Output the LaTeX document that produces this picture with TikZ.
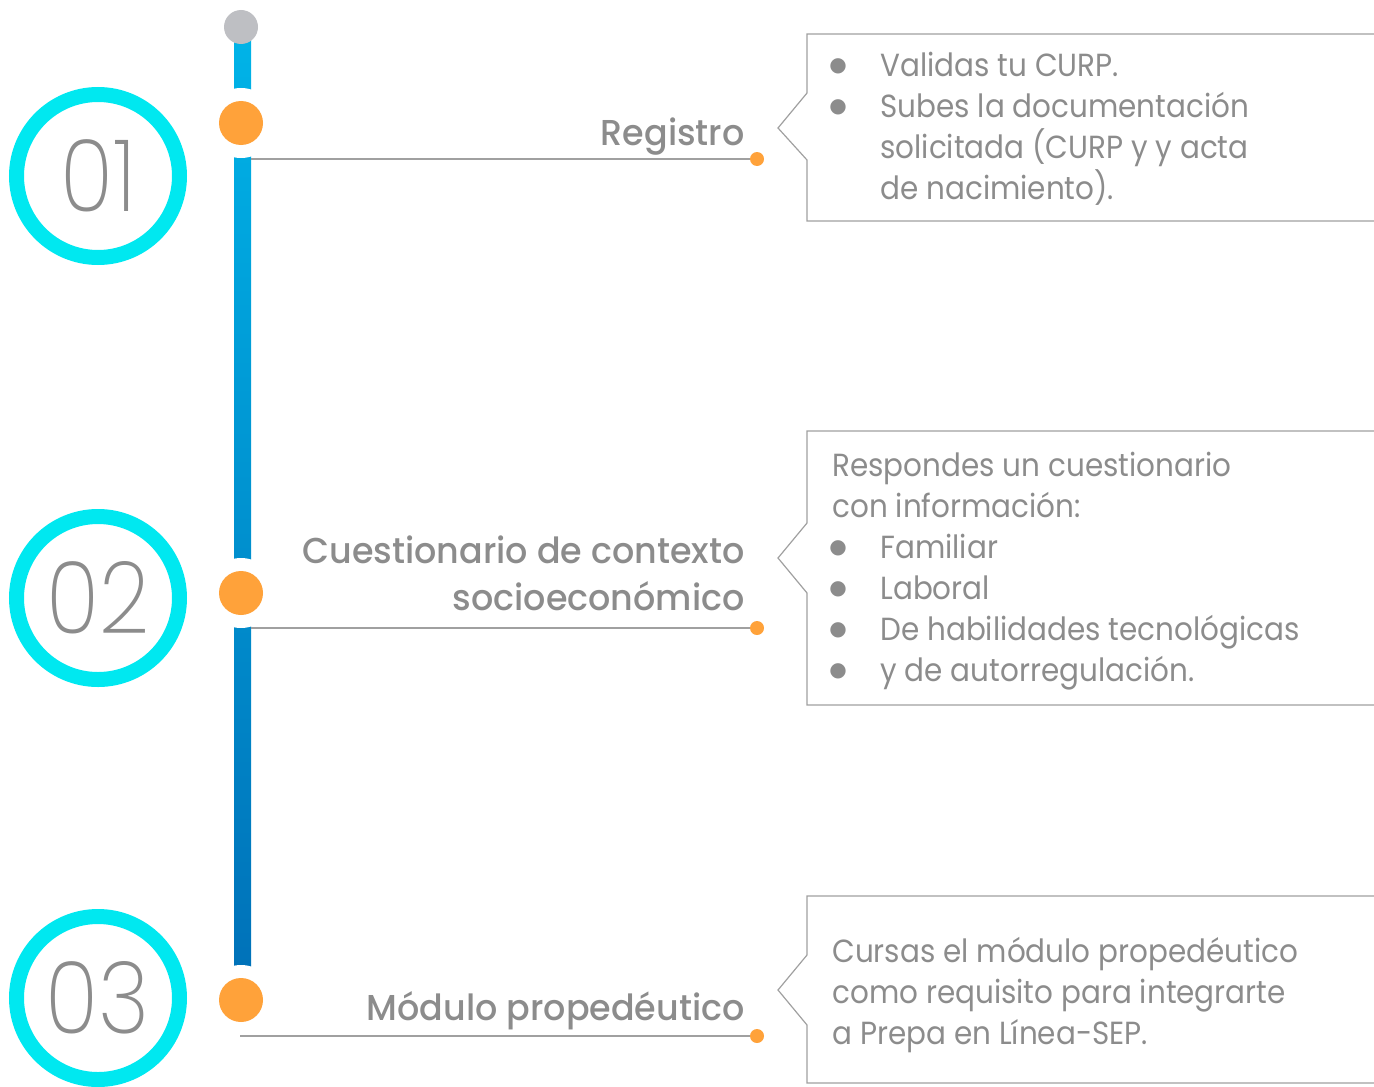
\documentclass[tikz,border=0pt]{standalone}
\usepackage{fontspec}
\setmainfont{Poppins}[FakeStretch=0.92]
\newfontfamily\titlefont{Poppins Medium}[FakeStretch=0.97]
\newfontfamily\numfont{Poppins ExtraLight}
\newfontfamily\symfont{DejaVu Sans}
\usetikzlibrary{positioning}

\definecolor{txtgray}{HTML}{8C8C8C}
\definecolor{linegray}{HTML}{A0A0A0}
\definecolor{dotorange}{HTML}{FFA23A}
\definecolor{topgray}{HTML}{BEBFC3}
\definecolor{ringcyan}{HTML}{00E8F0}
\definecolor{bartop}{HTML}{00B4E8}
\definecolor{barbot}{HTML}{0072B9}

\tikzset{
  ring/.style={draw=ringcyan, line width=7.5pt},
  numtxt/.style={font=\numfont\fontsize{50}{50}\selectfont, text=txtgray, xscale=.88},
  stepdot/.style={circle, fill=dotorange, minimum size=22pt, inner sep=0pt},
  topdot/.style={circle, fill=topgray, minimum size=17pt, inner sep=0pt},
  enddot/.style={circle, fill=dotorange, minimum size=7pt, inner sep=0pt},
  leader/.style={draw=linegray, line width=.6pt},
  callout/.style={draw=linegray, line width=.6pt},
  steptitle/.style={font=\titlefont\fontsize{18}{23.5}\selectfont, text=txtgray, align=right, inner sep=0pt},
  bodytxt/.style={font=\fontsize{16}{20.5}\selectfont, text=txtgray, align=left, inner sep=0pt},
}
\newcommand{\itm}{\makebox[24pt][l]{\hspace{-1.5pt}\raisebox{2.4pt}{\symfont\fontsize{10}{10}\selectfont ●}}}

\begin{document}
\begin{tikzpicture}[x=0.5pt,y=-0.5pt]
\useasboundingbox (0,0) rectangle (1374,1086);
% timeline bar
\shade[top color=bartop, bottom color=barbot] (234,27) rectangle (251,968);
\foreach \name/\y in {a/123,b/593,c/1000}{
  \fill[white] (241,\y) circle[radius=35];
  \node[stepdot] (dot\name) at (241,\y) {};
}
\node[topdot] (top) at (241,27) {};

% numbered rings
\foreach \name/\y/\num in {a/176/01,b/598/02,c/998/03}{
  \draw[ring] (98,\y) circle[radius=81.5];
  \node[numtxt] (num\name) at (98,\y) {\num};
}

% leaders
\coordinate (sa) at (251,159);
\coordinate (sb) at (251,628);
\coordinate (sc) at (240,1036);
\node[enddot] (enda) at (757,159) {};
\node[enddot] (endb) at (757,628) {};
\node[enddot] (endc) at (757,1036) {};
\draw[leader] (sa) -- (enda);
\draw[leader] (sb) -- (endb);
\draw[leader] (sc) -- (endc);

% titles
\node[steptitle, anchor=base east] (ta) at (745,145) {Registro};
\node[steptitle, anchor=north east] (tb) at (745,535) {Cuestionario de contexto\\socioeconómico};
\node[steptitle, anchor=base east] (tc) at (745,1020) {Módulo propedéutico};

% callout boxes
\draw[callout] (1374,34) -- (807,34) -- (807,93) -- (778,128) -- (807,160) -- (807,221) -- (1374,221);
\draw[callout] (1374,431) -- (807,431) -- (807,523) -- (778,558) -- (807,593) -- (807,705) -- (1374,705);
\draw[callout] (1374,896) -- (807,896) -- (807,955) -- (778,990) -- (807,1025) -- (807,1083) -- (1374,1083);

\node[bodytxt, anchor=north west] (ba) at (832,52) {\itm Validas tu CURP.\\
\itm Subes la documentación\\
\hspace{24pt}solicitada (CURP y y acta\\
\hspace{24pt}de nacimiento).};
\node[bodytxt, anchor=north west] (bb) at (832,452) {Respondes un cuestionario\\
con información:\\
\itm Familiar\\
\itm Laboral\\
\itm De habilidades tecnológicas\\
\itm y de autorregulación.};
\node[bodytxt, anchor=north west] (bc) at (832,937) {Cursas el módulo propedéutico\\
como requisito para integrarte\\
a Prepa en Línea-SEP.};
\end{tikzpicture}
\end{document}
